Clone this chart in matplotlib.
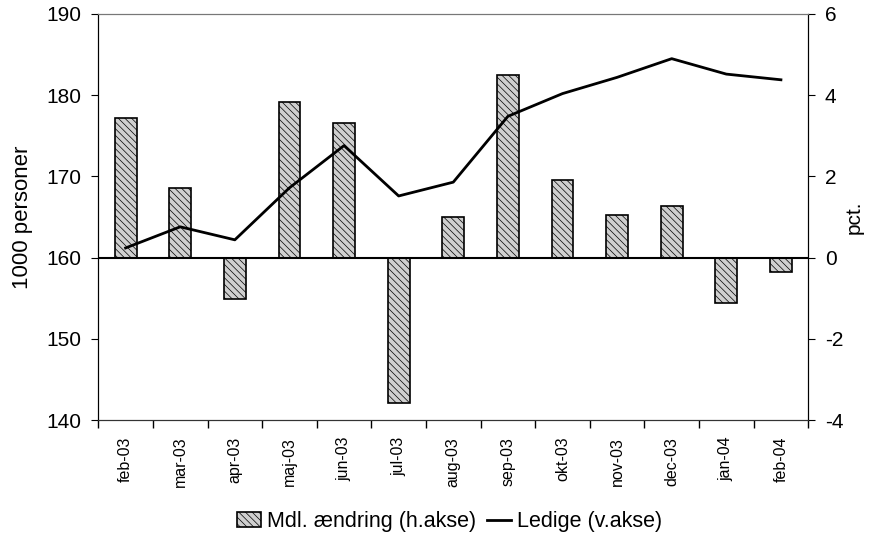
import matplotlib.pyplot as plt
import numpy as np

maaneder = ['feb-03', 'mar-03', 'apr-03', 'maj-03', 'jun-03', 'jul-03', 'aug-03',
            'sep-03', 'okt-03', 'nov-03', 'dec-03', 'jan-04', 'feb-04']
# maanedlig aendring, pct. (hoejre akse)
aendring = [3.44, 1.71, -1.02, 3.83, 3.31, -3.58, 1.00, 4.50, 1.91, 1.05, 1.28, -1.12, -0.36]
# ledige, 1000 personer (venstre akse)
ledige = [161.2, 163.8, 162.2, 168.6, 173.8, 167.6, 169.3, 177.4, 180.2, 182.2, 184.5, 182.6, 181.9]

plt.rcParams['font.family'] = ['Liberation Sans', 'DejaVu Sans']
plt.rcParams['axes.unicode_minus'] = False
plt.rcParams['hatch.color'] = '#7a7a7a'
plt.rcParams['hatch.linewidth'] = 0.5

x = np.arange(len(maaneder))

fig, ax = plt.subplots(figsize=(8.7, 5.38), dpi=100)
fig.subplots_adjust(left=0.113, right=0.929, top=0.974, bottom=0.219)
ax2 = ax.twinx()

# venstre akse foran hoejre, saa linjen tegnes oeverst
ax.set_zorder(2)
ax.patch.set_visible(False)

ax2.bar(x, aendring, width=0.4, color='#cfcfcf', edgecolor='black', linewidth=1.2,
        hatch='\\\\\\\\\\', label='Mdl. ændring (h.akse)')
ax2.axhline(0, color='black', linewidth=1.5)
ln, = ax.plot(x, ledige, color='black', linewidth=2, label='Ledige (v.akse)')

ax.set_xlim(-0.5, len(maaneder) - 0.5)
ax.set_ylim(140, 190)
ax2.set_ylim(-4, 6)
ax.set_yticks([140, 150, 160, 170, 180, 190])
ax2.set_yticks([-4, -2, 0, 2, 4, 6])

ax.set_xticks(x)
ax.set_xticklabels(maaneder, rotation=90, fontsize=11.5)
ax.set_xticks(np.arange(-0.5, len(maaneder)), minor=True)
ax.tick_params(axis='x', which='major', length=0, pad=12)
ax.tick_params(axis='x', which='minor', length=6, width=1)
ax.tick_params(axis='y', labelsize=15, length=5, pad=7)
ax2.tick_params(axis='y', labelsize=15, length=5, pad=7)

ax.set_ylabel('1000 personer', fontsize=16, labelpad=10)
ax2.set_ylabel('pct.', fontsize=15, labelpad=1)

for a in (ax, ax2):
    a.spines['top'].set_color('#777777')
    a.spines['top'].set_linewidth(0.8)
    a.spines['bottom'].set_color('#333333')

h2, l2 = ax2.get_legend_handles_labels()
fig.legend(h2 + [ln], l2 + ['Ledige (v.akse)'], loc='center', ncol=2, frameon=False,
           fontsize=15.5, handlelength=1.1, handletextpad=0.3, columnspacing=0.5,
           bbox_to_anchor=(0.517, 0.03))

plt.savefig('out.png')
